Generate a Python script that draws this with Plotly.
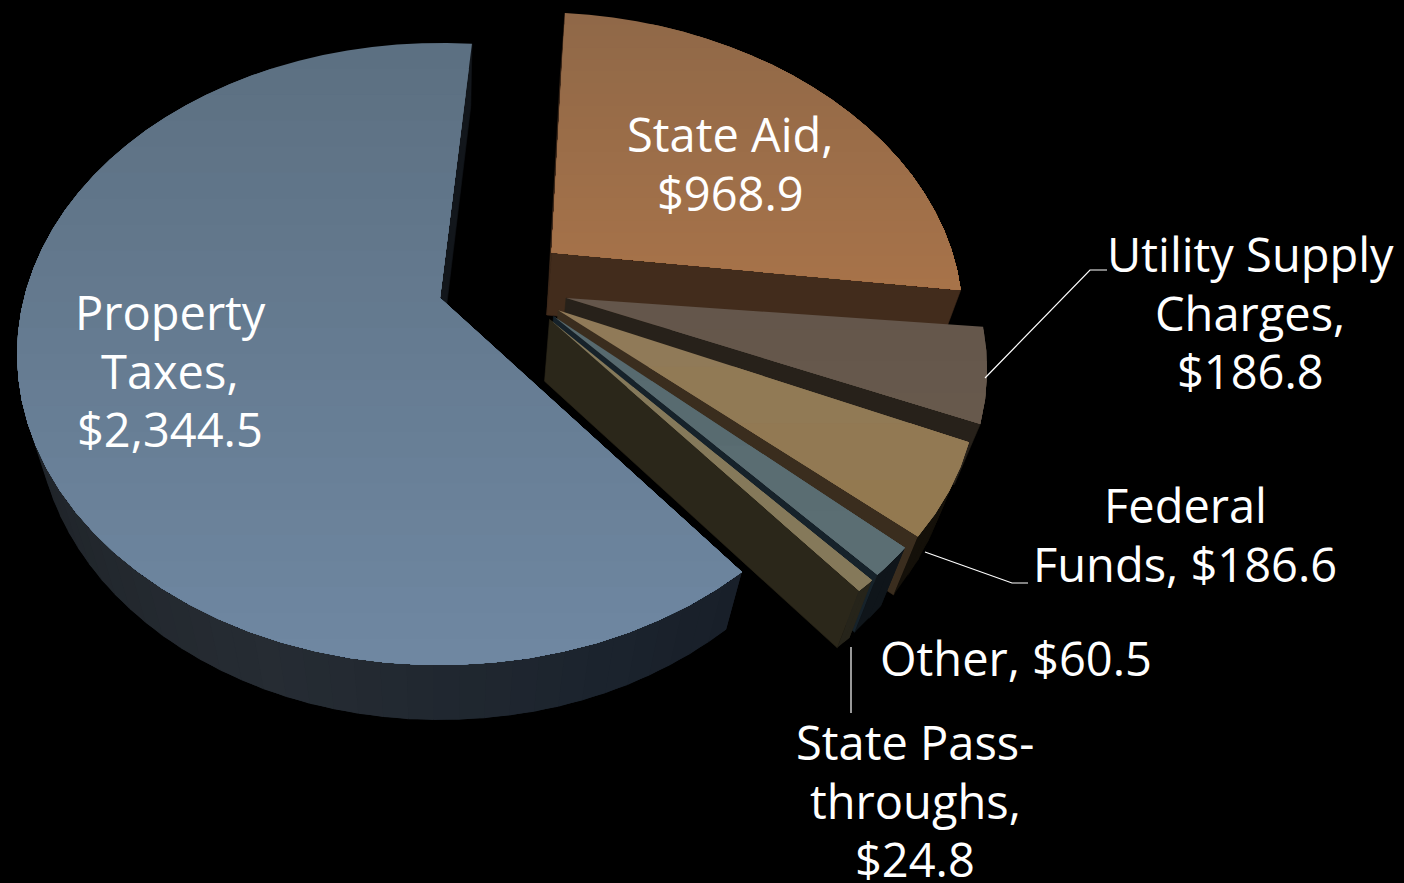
import math
import plotly.graph_objects as go

categories = ["Property Taxes", "State Aid", "Utility Supply Charges", "Federal Funds", "Other", "State Pass-throughs"]
values = [2344.5, 968.9, 186.8, 186.6, 60.5, 24.8]
label_lines = [["Property", "Taxes,", "$2,344.5"], ["State Aid,", "$968.9"], ["Utility Supply", "Charges,", "$186.8"],
               ["Federal", "Funds, $186.6"], ["Other, $60.5"], ["State Pass-", "throughs,", "$24.8"]]
label_x = [170, 730, 1250, 1185, 1016, 915]
label_first_y = [312, 134, 254, 505, 658, 742]

top_colors = [("#5c6f81", "#6f88a2"), ("#8f6848", "#a87349"), ("#63564b", "#68594c"),
              ("#8f7a59", "#94794f"), ("#56696e", "#5c6f74"), ("#85795a", "#85795a")]
cut_colors = ["#12161b", "#422c1c", "#27211a", "#3a2d1e", "#16222a", "#2b271a"]
wall_colors = [[(170, "#050607"), (205, "#1f2429"), (250, "#262c33"), (290, "#1b232d"), (315, "#171d27")],
               [(0, "#1a1108"), (90, "#1a1108")], [(0, "#1c1712"), (360, "#1c1712")],
               [(0, "#141009"), (360, "#141009")], [(0, "#0f151a"), (360, "#0f151a")], [(0, "#26241a"), (360, "#26241a")]]
explode_u = [0.0, 0.276, 0.303, 0.282, 0.27, 0.26]
explode_v = [0.0, 0.155, 0.0, -0.04, -0.06, -0.07]
radius = [1.0, 0.99, 0.985, 0.975, 0.965, 0.965]
angle_shift = [0.0, -2.0, 0.0, -1.0, -2.2, -2.5]

START_PROPERTY = 84.8
START_REST = 87.0
X0, Y0, A, B, D, K, M = 440.0, 298.0, 416.0, 301.0, 65.0, 0.18, 0.047


def proj(u, v, d):
    w = 1 + K * v + M * d
    return X0 + A * u / w, Y0 + (-B * v + D * d) / w


def hex2rgb(c):
    return tuple(int(c[i:i + 2], 16) for i in (1, 3, 5))


def mix(c1, c2, t):
    a, b = hex2rgb(c1), hex2rgb(c2)
    return "rgb(%d,%d,%d)" % tuple(round(a[i] + (b[i] - a[i]) * t) for i in range(3))


def ramp(stops, a):
    a = a % 360
    if a <= stops[0][0]:
        return mix(stops[0][1], stops[0][1], 0)
    for (p, c), (q, e) in zip(stops, stops[1:]):
        if a <= q:
            return mix(c, e, (a - p) / (q - p))
    return mix(stops[-1][1], stops[-1][1], 0)


def area(pts):
    s = 0
    for (x1, y1), (x2, y2) in zip(pts, pts[1:] + pts[:1]):
        s += x1 * y2 - x2 * y1
    return s / 2


def clip_below(pts, ylo):
    out = []
    for i, p in enumerate(pts):
        q = pts[(i + 1) % len(pts)]
        if p[1] >= ylo:
            out.append(p)
        if (p[1] >= ylo) != (q[1] >= ylo):
            out.append((p[0] + (q[0] - p[0]) * (ylo - p[1]) / (q[1] - p[1]), ylo))
    return out


fig = go.Figure()


def poly(pts, color, lw=0.6):
    xs = [p[0] for p in pts] + [pts[0][0]]
    ys = [p[1] for p in pts] + [pts[0][1]]
    fig.add_trace(go.Scatter(x=xs, y=ys, mode="lines", fill="toself", fillcolor=color,
                             line=dict(color=color, width=lw), hoverinfo="skip", showlegend=False))


total = sum(values)
arcs = {}
cursor = START_REST
for i in [1, 2, 3, 4, 5]:
    delta = values[i] / total * 360
    arcs[i] = (cursor - delta + angle_shift[i], cursor + angle_shift[i])
    cursor -= delta
arcs[0] = (START_PROPERTY, START_PROPERTY + values[0] / total * 360)


def draw_slice(i):
    a1, a2 = arcs[i]
    eu, ev, r = explode_u[i], explode_v[i], radius[i]
    rim = lambda a, d: proj(eu + r * math.cos(math.radians(a)), ev + r * math.sin(math.radians(a)), d)
    apex = lambda d: proj(eu, ev, d)
    n = max(2, int((a2 - a1) / 3))
    step = (a2 - a1) / n
    f2 = [rim(a2, 0), apex(0), apex(1), rim(a2, 1)]
    f1 = [apex(0), rim(a1, 0), rim(a1, 1), apex(1)]
    for f in (f2, f1):
        if area(f) > 0:
            poly(f, cut_colors[i])
    for j in range(n):
        p = a1 + step * j
        q = p + step
        quad = [rim(p, 0), rim(q, 0), rim(q, 1), rim(p, 1)]
        if area(quad) > 0:
            q2 = min(a2, q + step)
            poly([rim(p, 0), rim(q2, 0), rim(q2, 1), rim(p, 1)], ramp(wall_colors[i], (p + q) / 2), lw=0)
    m = max(4, int((a2 - a1) / 4))
    top = [apex(0)] + [rim(a2 - (a2 - a1) * j / m, 0) for j in range(m + 1)]
    y0 = min(p[1] for p in top)
    y1 = max(p[1] for p in top)
    bands = 24 if i < 2 else 4
    for b in range(bands):
        c = clip_below(top, y0 + (y1 - y0) * b / bands)
        if len(c) >= 3:
            poly(c, mix(top_colors[i][0], top_colors[i][1], (b + 0.5) / bands), lw=0)


for i in range(6):
    draw_slice(i)

leaders = [[(1107, 270), (1090, 270), (985, 378)], [(1028, 583), (1012, 583), (925, 552)], [(851, 647), (851, 713)]]
for ld in leaders:
    fig.add_trace(go.Scatter(x=[p[0] for p in ld], y=[p[1] for p in ld], mode="lines",
                             line=dict(color="#ffffff", width=1.2), hoverinfo="skip", showlegend=False))

LINE_STEP = 58.7
for lines, x, y in zip(label_lines, label_x, label_first_y):
    for n, t in enumerate(lines):
        fig.add_annotation(x=x, y=y + n * LINE_STEP, text=t, showarrow=False, xanchor="center", yanchor="middle",
                           align="center", font=dict(family="Open Sans", size=47, color="#ffffff"))

fig.update_layout(width=1404, height=883, margin=dict(l=0, r=0, t=0, b=0),
                  paper_bgcolor="#000000", plot_bgcolor="#000000", showlegend=False,
                  xaxis=dict(range=[0, 1404], visible=False, fixedrange=True),
                  yaxis=dict(range=[883, 0], visible=False, fixedrange=True))
fig.write_html("out.html", config={"displayModeBar": False},
               post_script="document.body.style.margin='0';document.body.style.background='#000';document.body.style.overflow='hidden';")
